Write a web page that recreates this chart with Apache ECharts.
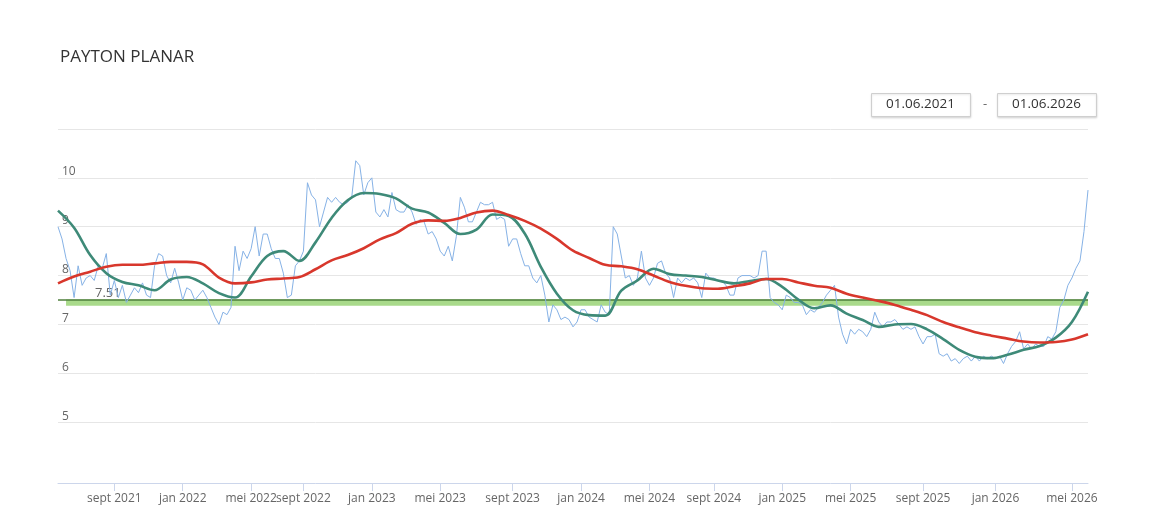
<!DOCTYPE html>
<html>
<head>
<meta charset="utf-8">
<script src="https://cdn.jsdelivr.net/npm/echarts@6/dist/echarts.min.js"></script>
<style>
html,body{margin:0;padding:0;background:#fff;}
#chart{width:1170px;height:528px;}
</style>
</head>
<body>
<div id="chart"></div>
<script>
// ---- data ----
const titleText = 'PAYTON PLANAR';
const rangeFrom = '01.06.2021';
const rangeTo = '01.06.2026';

// trading-date sampling: each segment starts at a month, with the number of samples it holds
const segmentStarts = ['2021-06-01','2021-09-01','2022-01-01','2022-05-01','2022-09-01','2023-01-01','2023-05-01','2023-09-01','2024-01-01','2024-05-01','2024-09-01','2025-01-01','2025-05-01','2025-09-01','2026-01-01','2026-05-01','2026-06-01'];
const segmentCounts = [14,17,17,13,17,17,18,17,17,16,17,17,18,18,19,5];
const monthNames = ['jan','feb','mrt','apr','mei','jun','jul','aug','sept','okt','nov','dec'];

const price = [
9.0,8.75,8.35,8.1,7.55,8.2,7.8,7.95,8.0,7.9,
8.2,8.15,8.45,7.6,7.9,7.55,7.8,7.45,7.6,7.75,
7.65,7.85,7.6,7.55,8.2,8.45,8.4,8.0,7.85,8.15,
7.85,7.5,7.75,7.7,7.5,7.6,7.7,7.55,7.35,7.15,
7.0,7.25,7.2,7.35,8.6,8.1,8.5,8.35,8.55,9.0,
8.4,8.85,8.85,8.55,8.35,8.35,8.05,7.55,7.6,8.2,
8.3,8.5,9.9,9.65,9.55,9.0,9.3,9.6,9.5,9.6,
9.5,9.45,9.5,9.6,10.35,10.25,9.65,9.9,10.0,9.3,
9.2,9.35,9.2,9.7,9.35,9.3,9.3,9.45,9.3,9.05,
9.15,9.1,8.85,8.9,8.75,8.5,8.4,8.6,8.3,8.8,
9.6,9.4,9.1,9.1,9.3,9.5,9.45,9.45,9.5,9.15,
9.2,9.15,8.6,8.75,8.75,8.45,8.2,8.2,7.95,7.85,
8.0,7.6,7.05,7.4,7.3,7.1,7.15,7.1,6.95,7.05,
7.3,7.3,7.15,7.1,7.05,7.4,7.25,7.2,9.0,8.85,
8.4,7.95,8.0,7.8,7.95,8.5,7.95,7.8,7.95,8.25,
8.3,8.05,7.95,7.55,7.95,7.85,7.95,7.9,7.95,7.85,
7.55,8.05,7.95,7.95,7.9,7.9,7.8,7.6,7.6,7.95,
8.0,8.0,8.0,7.95,8.0,8.5,8.5,7.55,7.45,7.4,
7.3,7.6,7.55,7.45,7.45,7.4,7.2,7.3,7.25,7.35,
7.45,7.6,7.7,7.8,7.15,6.8,6.6,6.9,6.8,6.9,
6.85,6.75,6.9,7.25,7.05,6.95,7.05,7.05,7.1,7.0,
6.9,6.95,6.9,6.95,6.75,6.6,6.75,6.75,6.8,6.4,
6.35,6.4,6.25,6.3,6.2,6.3,6.35,6.25,6.35,6.25,
6.35,6.3,6.35,6.3,6.35,6.2,6.4,6.55,6.65,6.85,
6.5,6.6,6.5,6.6,6.55,6.55,6.75,6.7,6.85,7.35,
7.5,7.8,7.95,8.15,8.3,8.9,9.75
];

// moving averages, one reading every maStep samples
const maStep = 4;
const maShort = [
9.33,8.98,8.42,8.05,7.87,7.8,7.7,7.92,7.97,7.84,
7.64,7.55,7.98,8.4,8.5,8.3,8.68,9.18,9.54,9.69,
9.67,9.58,9.37,9.29,9.08,8.85,8.94,9.25,9.22,8.86,
8.18,7.63,7.29,7.19,7.18,7.69,7.9,8.14,8.03,8.0,
7.97,7.9,7.84,7.89,7.93,7.77,7.51,7.33,7.39,7.22,
7.09,6.95,7.0,7.01,6.9,6.7,6.48,6.34,6.31,6.38,
6.48,6.56,6.73,7.05,7.67
];
const maLong = [
7.84,7.98,8.08,8.18,8.22,8.22,8.25,8.28,8.28,8.23,
7.96,7.84,7.86,7.92,7.94,7.97,8.13,8.31,8.42,8.56,
8.74,8.87,9.06,9.13,9.12,9.18,9.29,9.33,9.24,9.12,
8.96,8.75,8.51,8.36,8.22,8.19,8.13,8.0,7.87,7.79,
7.74,7.73,7.78,7.84,7.93,7.93,7.86,7.79,7.75,7.63,
7.55,7.48,7.4,7.3,7.19,7.05,6.94,6.84,6.77,6.71,
6.65,6.63,6.64,6.69,6.8
];

const supportLevel = 7.51;
const supportBandLow = 7.38;
const yMin = 4, yMax = 11, yStep = 1;
const yLabelMin = 5, yLabelMax = 10;

// ---- build categories (dates) ----
const DAY = 86400000;
const categories = [];
const labelIndexSet = new Set();
for (let s = 0; s < segmentCounts.length; s++) {
  const start = Date.parse(segmentStarts[s] + 'T00:00:00Z');
  const end = Date.parse(segmentStarts[s + 1] + 'T00:00:00Z');
  const span = Math.round((end - start) / DAY);
  if (s > 0) labelIndexSet.add(categories.length);
  for (let j = 0; j < segmentCounts[s]; j++) {
    const d = new Date(start + Math.floor(j * span / segmentCounts[s]) * DAY);
    categories.push(d.toISOString().slice(0, 10));
  }
}
const N = categories.length;
function spread(arr) {
  const out = new Array(N).fill(null);
  arr.forEach((v, i) => { const idx = i * maStep; if (idx < N) out[idx] = v; });
  return out;
}
const showAt = (idx) => labelIndexSet.has(idx);
const FONT = '"Open Sans", "Noto Sans", sans-serif';

const chart = echarts.init(document.getElementById('chart'), null, {renderer: 'canvas'});
const splitColors = [];
for (let v = yMin; v <= yMax; v += yStep) splitColors.push(v < yLabelMin ? 'rgba(0,0,0,0)' : '#e6e6e6');

chart.setOption({
  animation: false,
  backgroundColor: '#fff',
  textStyle: {fontFamily: FONT},
  title: {
    text: titleText, left: 55, top: 44,
    textStyle: {fontFamily: FONT, fontSize: 17, fontWeight: 'normal', color: '#333'}
  },
  graphic: [
    {type: 'rect', left: 871, top: 93, shape: {width: 99, height: 23},
     style: {fill: '#fff', stroke: '#cfcfcf', lineWidth: 1, shadowBlur: 2, shadowColor: 'rgba(0,0,0,0.12)', shadowOffsetY: 1}},
    {type: 'text', x: 920.5, y: 104.5, style: {text: rangeFrom, fill: '#333', font: '13.5px ' + FONT, textAlign: 'center', textVerticalAlign: 'middle'}},
    {type: 'text', x: 985, y: 104.5, style: {text: '-', fill: '#666', font: '13px ' + FONT, textAlign: 'center', textVerticalAlign: 'middle'}},
    {type: 'rect', left: 997, top: 93, shape: {width: 99, height: 23},
     style: {fill: '#fff', stroke: '#cfcfcf', lineWidth: 1, shadowBlur: 2, shadowColor: 'rgba(0,0,0,0.12)', shadowOffsetY: 1}},
    {type: 'text', x: 1046.5, y: 104.5, style: {text: rangeTo, fill: '#333', font: '13.5px ' + FONT, textAlign: 'center', textVerticalAlign: 'middle'}}
  ],
  grid: {left: 58, right: 82, top: 129, bottom: 57, containLabel: false, outerBoundsMode: 'none'},
  xAxis: {
    type: 'category', data: categories, boundaryGap: false, offset: 12,
    axisLine: {show: true, lineStyle: {color: '#ccd6eb', width: 1}},
    axisTick: {show: true, interval: showAt, length: 8, lineStyle: {color: '#ccd6eb'}},
    axisLabel: {
      interval: showAt, margin: 10, color: '#666', fontSize: 12, fontFamily: FONT,
      formatter: (val) => { const d = new Date(val + 'T00:00:00Z'); return monthNames[d.getUTCMonth()] + ' ' + d.getUTCFullYear(); }
    },
    splitLine: {show: false}
  },
  yAxis: {
    type: 'value', min: yMin, max: yMax, interval: yStep,
    axisLine: {show: false}, axisTick: {show: false},
    axisLabel: {
      inside: true, margin: 4, verticalAlign: 'bottom', color: '#666', fontSize: 12, fontFamily: FONT,
      formatter: (v) => (v >= yLabelMin && v <= yLabelMax) ? String(v) : ''
    },
    splitLine: {show: true, lineStyle: {color: splitColors, width: 1}}
  },
  series: [
    {
      name: 'Koers', type: 'line', data: price, showSymbol: false, z: 3,
      lineStyle: {color: '#86b2e6', width: 1}, itemStyle: {color: '#86b2e6'},
      markLine: {
        silent: true, symbol: ['none', 'none'], z: 2.5,
        lineStyle: {color: '#4f7f3c', width: 1.5, type: 'solid'},
        label: {show: true, position: 'insideStartTop', distance: 0, padding: [0, 0, 0, 37],
                color: '#666', fontSize: 13, fontFamily: FONT, formatter: String(supportLevel)},
        data: [{yAxis: supportLevel}]
      },
      markArea: {
        silent: true, z: 2,
        itemStyle: {color: 'rgba(140,205,100,0.75)', borderWidth: 0},
        data: [[{xAxis: categories[2], yAxis: supportLevel}, {xAxis: categories[N - 1], yAxis: supportBandLow}]]
      }
    },
    {
      name: 'MA kort', type: 'line', data: spread(maShort), connectNulls: true, smooth: 0.35,
      showSymbol: false, z: 4, lineStyle: {color: '#3e8a78', width: 2.6}, itemStyle: {color: '#3e8a78'}
    },
    {
      name: 'MA lang', type: 'line', data: spread(maLong), connectNulls: true, smooth: 0.35,
      showSymbol: false, z: 5, lineStyle: {color: '#d8372c', width: 2.6}, itemStyle: {color: '#d8372c'}
    }
  ]
});
</script>
</body>
</html>
